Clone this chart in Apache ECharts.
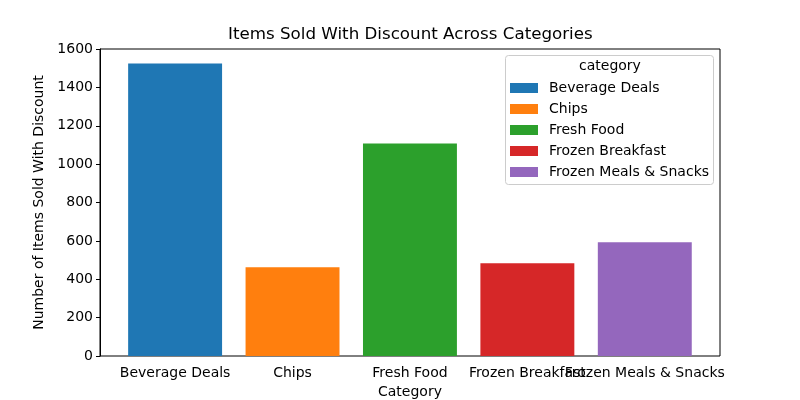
<!DOCTYPE html>
<html><head><meta charset="utf-8">
<script src="https://cdn.jsdelivr.net/npm/echarts@6/dist/echarts.min.js"></script>
<style>html,body{margin:0;padding:0;background:#fff}#c{width:800px;height:400px}</style>
</head><body><div id="c"></div>
<script>
const categories = ["Beverage Deals", "Chips", "Fresh Food", "Frozen Breakfast", "Frozen Meals & Snacks"];
const values = [1525, 463, 1108, 484, 593];
const colors = ["#1f77b4", "#ff7f0e", "#2ca02c", "#d62728", "#9467bd"];
const yTicks = [0, 200, 400, 600, 800, 1000, 1200, 1400, 1600];

const font = "DejaVu Sans";
const series = categories.map((c, i) => ({
  name: c,
  type: "bar",
  stack: "all",
  barWidth: "80%",
  xAxisIndex: 1, yAxisIndex: 1,
  itemStyle: { color: colors[i] },
  data: categories.map((_, j) => (j === i ? values[i] : null))
}));

const chart = echarts.init(document.getElementById("c"), null, { renderer: "canvas" });
chart.setOption({
  animation: false,
  backgroundColor: "#fff",
  textStyle: { fontFamily: font },
  title: {
    text: "Items Sold With Discount Across Categories",
    left: 228, top: 26, padding: 0,
    textStyle: { fontFamily: font, fontSize: 16.7, fontWeight: "normal", color: "#000" }
  },
  grid: [
    { left: 100, right: 80, top: 49, bottom: 44, show: true, borderColor: "#000", borderWidth: 1, backgroundColor: "transparent", outerBoundsMode: "none", containLabel: false },
    { left: 116.4, right: 96.5, top: 49, bottom: 44, outerBoundsMode: "none", containLabel: false }
  ],
  xAxis: [
    { type: "category", gridIndex: 0, data: categories, show: false },
    {
      type: "category", gridIndex: 1, data: categories,
      name: "Category", nameLocation: "middle", nameGap: 29,
      nameTextStyle: { fontFamily: font, fontSize: 14, color: "#000" },
      axisLine: { show: false },
      axisTick: { alignWithLabel: true, length: 4, lineStyle: { color: "#000" } },
      axisLabel: { fontFamily: font, fontSize: 14, color: "#000", interval: 0, margin: 10 }
    }
  ],
  yAxis: [
    {
      type: "value", gridIndex: 0, min: yTicks[0], max: yTicks[yTicks.length - 1], interval: 200,
      name: "Number of Items Sold With Discount", nameLocation: "middle", nameGap: 46,
      nameTextStyle: { fontFamily: font, fontSize: 14, color: "#000" },
      axisLine: { show: true, lineStyle: { color: "#000" } },
      axisTick: { show: true, length: 4, lineStyle: { color: "#000" } },
      axisLabel: { fontFamily: font, fontSize: 14, color: "#000", margin: 7, formatter: v => String(v) },
      splitLine: { show: false }
    },
    { type: "value", gridIndex: 1, min: yTicks[0], max: yTicks[yTicks.length - 1], interval: 200, show: false, splitLine: { show: false } }
  ],
  legend: {
    orient: "vertical", left: 510, top: 81, padding: 0, z: 10,
    itemWidth: 28, itemHeight: 10, itemGap: 7,
    icon: "rect",
    textStyle: { fontFamily: font, fontSize: 14, color: "#000", padding: [0, 0, 0, 6] },
    data: categories
  },
  graphic: [
    { type: "rect", left: 505, top: 55, shape: { width: 208, height: 129, r: 3 },
      style: { fill: "rgba(255,255,255,0.8)", stroke: "#ccc", lineWidth: 1 }, z: 1 },
    { type: "text", left: 579, top: 59, style: { text: "category", font: "14px 'DejaVu Sans'", fill: "#000" }, z: 2 }
  ],
  series: series
});
</script></body></html>
